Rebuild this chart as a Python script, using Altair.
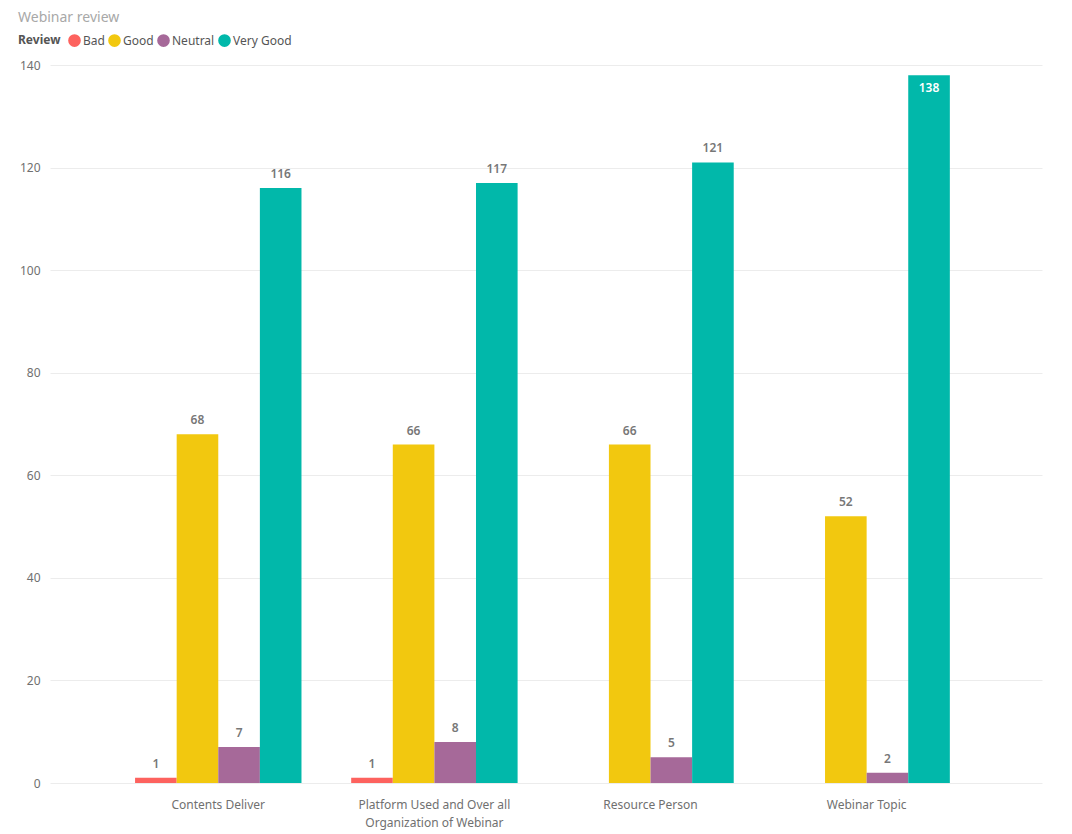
import altair as alt
import pandas as pd

categories = ["Contents Deliver", "Platform Used and Over all Organization of Webinar", "Resource Person", "Webinar Topic"]
reviews = ["Bad", "Good", "Neutral", "Very Good"]
colors = ["#FD625E", "#F2C80F", "#A66999", "#01B8AA"]

bad = [1, 1, None, None]
good = [68, 66, 66, 52]
neutral = [7, 8, 5, 2]
very_good = [116, 117, 121, 138]

rows = []
for series, vals in zip(reviews, [bad, good, neutral, very_good]):
    for c, v in zip(categories, vals):
        if v is not None:
            rows.append({"Category": c, "Review": series, "Count": v})
df = pd.DataFrame(rows)

FONT = "Noto Sans"

base = alt.Chart(df).encode(
    x=alt.X("Category:N", sort=categories, title=None,
            scale=alt.Scale(paddingInner=0.23, paddingOuter=0.41, align=0.48),
            axis=alt.Axis(labelAngle=0, ticks=False, domain=False, labelPadding=16,
                          labelFontSize=12, labelColor="#707070", labelFont=FONT,
                          labelLimit=400, labelLineHeight=18,
                          labelExpr="datum.label == 'Platform Used and Over all Organization of Webinar' ? ['Platform Used and Over all', 'Organization of Webinar'] : datum.label")),
    xOffset=alt.XOffset("Review:N", sort=reviews, scale=alt.Scale(domain=reviews, paddingInner=0, paddingOuter=0)),
    y=alt.Y("Count:Q", title=None,
            scale=alt.Scale(domain=[0, 140], nice=False),
            axis=alt.Axis(values=[0, 20, 40, 60, 80, 100, 120, 140], ticks=False, domain=False,
                          labelPadding=10, labelFontSize=12, labelColor="#707070", labelFont=FONT,
                          gridColor="#ECECEC", gridWidth=1)),
)

bars = base.mark_bar().encode(
    color=alt.Color("Review:N", sort=reviews,
                    scale=alt.Scale(domain=reviews, range=colors),
                    legend=alt.Legend(orient="none", legendX=-32, legendY=-32, direction="horizontal",
                                      title="Review", titleOrient="left", titleFontSize=12,
                                      titleColor="#555555", titleFontWeight="bold", titleFont=FONT,
                                      titlePadding=6, labelFont=FONT, labelFontSize=12,
                                      labelColor="#555555", symbolType="circle", symbolSize=160,
                                      symbolOpacity=1, columnPadding=2, labelOffset=1)),
)

labels_out = base.transform_filter("datum.Count < 135").mark_text(
    baseline="bottom", dy=-7, font=FONT, fontSize=12, fontWeight=600, color="#777777"
).encode(text="Count:Q")

labels_in = base.transform_filter("datum.Count >= 135").mark_text(
    baseline="top", dy=8, font=FONT, fontSize=12, fontWeight=600, color="#FFFFFF"
).encode(text="Count:Q")

chart = alt.layer(bars, labels_out, labels_in).properties(
    width=992, height=718,
    title=alt.TitleParams("Webinar review", anchor="start", dx=0, fontSize=14,
                          font=FONT, fontWeight="normal", color="#A8A8A8", offset=8),
    autosize=alt.AutoSizeParams(type="none"),
    padding={"left": 42, "top": 57, "right": 22, "bottom": 50},
).configure_view(stroke=None)

chart.save("out.html", embed_options={"renderer": "svg", "actions": False})
